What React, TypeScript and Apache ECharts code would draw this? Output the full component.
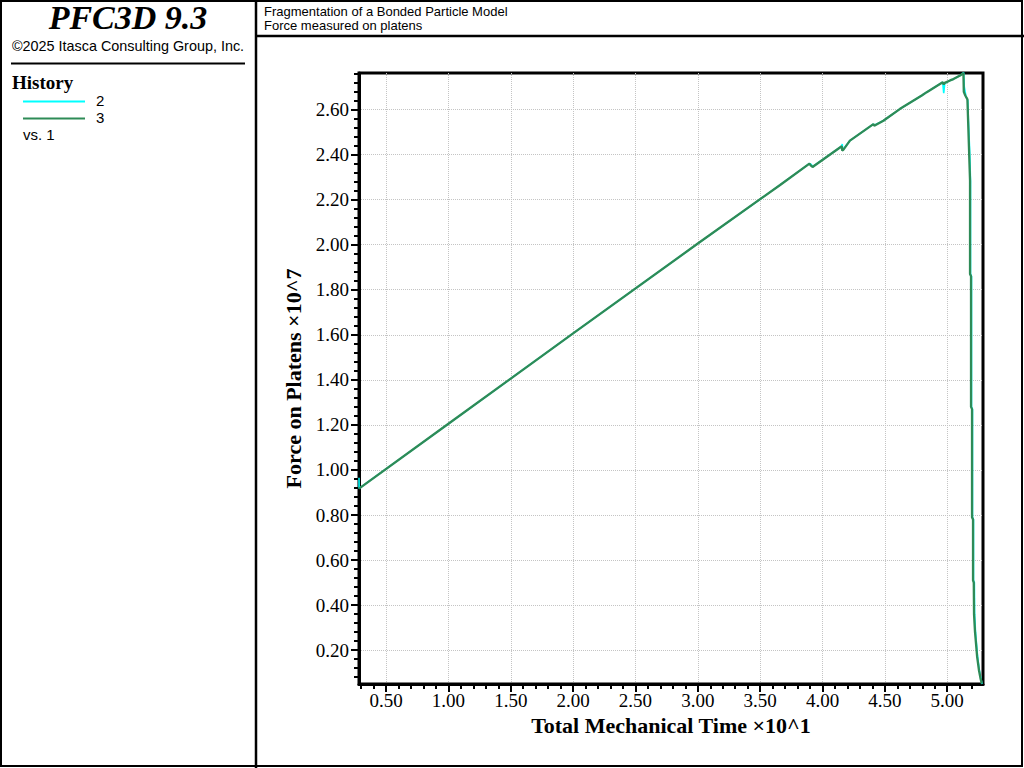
import React, { useEffect, useRef } from "react";
import * as echarts from "echarts";

// ---- data ----
const time2 = [0.283, 0.284, 1.0, 2.0, 3.0, 3.66, 3.895, 3.91, 3.92, 4.154, 4.158, 4.163, 4.22, 4.408, 4.415, 4.488, 4.622, 4.796, 4.836, 4.964, 4.972, 4.98, 5.023, 5.05, 5.103, 5.132, 5.137, 5.15, 5.165, 5.17, 5.18, 5.187, 5.187, 5.195, 5.195, 5.203, 5.203, 5.211, 5.211, 5.218, 5.22, 5.227, 5.244, 5.258, 5.27, 5.28];
const force2 = [0.965, 0.918, 1.205, 1.606, 2.005, 2.265, 2.36, 2.356, 2.346, 2.437, 2.447, 2.42, 2.462, 2.535, 2.53, 2.55, 2.603, 2.662, 2.677, 2.721, 2.672, 2.715, 2.729, 2.735, 2.751, 2.765, 2.7, 2.66, 2.64, 2.55, 2.42, 2.28, 1.87, 1.86, 1.28, 1.27, 0.79, 0.78, 0.51, 0.5, 0.36, 0.28, 0.17, 0.11, 0.075, 0.05];

const time3 = [0.283, 1.0, 2.0, 3.0, 3.66, 3.895, 3.905, 3.92, 4.154, 4.158, 4.165, 4.22, 4.408, 4.415, 4.488, 4.622, 4.796, 4.836, 4.964, 4.972, 4.98, 5.023, 5.05, 5.103, 5.13, 5.133, 5.145, 5.162, 5.168, 5.175, 5.183, 5.183, 5.191, 5.191, 5.199, 5.199, 5.207, 5.207, 5.213, 5.215, 5.223, 5.24, 5.255, 5.267, 5.277];
const force3 = [0.917, 1.205, 1.606, 2.005, 2.265, 2.36, 2.352, 2.345, 2.437, 2.418, 2.42, 2.462, 2.535, 2.528, 2.55, 2.603, 2.662, 2.677, 2.721, 2.711, 2.718, 2.729, 2.735, 2.751, 2.761, 2.678, 2.662, 2.645, 2.542, 2.42, 2.285, 1.87, 1.86, 1.28, 1.27, 0.79, 0.78, 0.51, 0.5, 0.36, 0.28, 0.17, 0.11, 0.075, 0.052];

const xMajorTicks = [0.5, 1.0, 1.5, 2.0, 2.5, 3.0, 3.5, 4.0, 4.5, 5.0];
const yMajorTicks = [0.2, 0.4, 0.6, 0.8, 1.0, 1.2, 1.4, 1.6, 1.8, 2.0, 2.2, 2.4, 2.6];

const X_MIN = 0.283;
const X_MAX = 5.287;
const Y_MIN = 0.05;
const Y_MAX = 2.762;

function minorTicks(min: number, max: number, step: number): number[] {
  const out: number[] = [];
  const start = Math.ceil(min / step - 1e-9);
  for (let k = start; k * step <= max + 1e-9; k++) {
    out.push(Math.round(k * step * 1000) / 1000);
  }
  return out;
}

const SERIF = "'Times New Roman', 'Liberation Serif', serif";
const SANS = "Arial, 'Liberation Sans', sans-serif";

export default function App() {
  const ref = useRef<HTMLDivElement>(null);

  useEffect(() => {
    if (!ref.current) return;
    const chart = echarts.init(ref.current, null, { renderer: "svg" });

    const xMinor = minorTicks(X_MIN, X_MAX, 0.1);
    const yMinor = minorTicks(Y_MIN, Y_MAX, 0.04);

    const tickLabel = {
      fontFamily: SERIF,
      fontSize: 19,
      color: "#000",
      formatter: (v: number) => Number(v).toFixed(2),
    };

    const option: any = {
      animation: false,
      backgroundColor: "#fff",
      grid: {
        left: 359,
        right: 41,
        top: 73,
        bottom: 84,
        show: true,
        borderColor: "#000",
        borderWidth: 3,
        backgroundColor: "transparent",
      },
      xAxis: [
        {
          type: "value",
          min: X_MIN,
          max: X_MAX,
          position: "bottom",
          name: "Total Mechanical Time \u00d710^1",
          nameLocation: "middle",
          nameGap: 26,
          nameTextStyle: { fontFamily: SERIF, fontSize: 22, fontWeight: "bold", color: "#000" },
          axisLine: { show: true, lineStyle: { color: "#000", width: 3 } },
          axisTick: { show: true, customValues: xMinor, length: 5, lineStyle: { color: "#000", width: 2 } },
          axisLabel: { ...tickLabel, customValues: xMajorTicks, margin: 7 },
          splitLine: { show: false },
        },
        {
          type: "value",
          min: X_MIN,
          max: X_MAX,
          position: "bottom",
          axisLine: { show: false },
          axisTick: { show: true, customValues: xMajorTicks, length: 8, lineStyle: { color: "#000", width: 2 } },
          axisLabel: { show: false },
          splitLine: { show: true, lineStyle: { color: "#c4c4c4", type: "dotted", width: 1 } },
        },
      ],
      yAxis: [
        {
          type: "value",
          min: Y_MIN,
          max: Y_MAX,
          position: "left",
          name: "Force on Platens \u00d710^7",
          nameLocation: "middle",
          nameGap: 47,
          nameRotate: 90,
          nameTextStyle: { fontFamily: SERIF, fontSize: 22, fontWeight: "bold", color: "#000" },
          axisLine: { show: true, lineStyle: { color: "#000", width: 3 } },
          axisTick: { show: true, customValues: yMinor, length: 5, lineStyle: { color: "#000", width: 2 } },
          axisLabel: { ...tickLabel, customValues: yMajorTicks, margin: 10 },
          splitLine: { show: false },
        },
        {
          type: "value",
          min: Y_MIN,
          max: Y_MAX,
          position: "left",
          axisLine: { show: false },
          axisTick: { show: true, customValues: yMajorTicks, length: 8, lineStyle: { color: "#000", width: 2 } },
          axisLabel: { show: false },
          splitLine: { show: true, lineStyle: { color: "#c4c4c4", type: "dotted", width: 1 } },
        },
      ],
      series: [
        {
          name: "2",
          type: "line",
          xAxisIndex: 0,
          yAxisIndex: 0,
          showSymbol: false,
          symbol: "none",
          data: time2.map((t, i) => [t, force2[i]]),
          lineStyle: { color: "#00FFFF", width: 1.6 },
          itemStyle: { color: "#00FFFF" },
          z: 3,
        },
        {
          name: "3",
          type: "line",
          xAxisIndex: 0,
          yAxisIndex: 0,
          showSymbol: false,
          symbol: "none",
          data: time3.map((t, i) => [t, force3[i]]),
          lineStyle: { color: "#2E8B57", width: 2.3 },
          itemStyle: { color: "#2E8B57" },
          z: 4,
        },
      ],
      graphic: [
        // frames
        { type: "rect", shape: { x: 1, y: 1, width: 1021, height: 765 }, style: { fill: "none", stroke: "#000", lineWidth: 2 }, silent: true },
        { type: "line", shape: { x1: 256, y1: 0, x2: 256, y2: 768 }, style: { stroke: "#000", lineWidth: 2.5 }, silent: true },
        { type: "line", shape: { x1: 256, y1: 36, x2: 1024, y2: 36 }, style: { stroke: "#000", lineWidth: 2.5 }, silent: true },
        // left panel
        { type: "text", x: 128, y: 17, style: { text: "PFC3D 9.3", font: `italic bold 34px ${SERIF}`, fill: "#000", textAlign: "center", textVerticalAlign: "middle" } },
        { type: "text", x: 128, y: 46, style: { text: "\u00a92025 Itasca Consulting Group, Inc.", font: `14.4px ${SANS}`, fill: "#000", textAlign: "center", textVerticalAlign: "middle" } },
        { type: "line", shape: { x1: 11, y1: 63.5, x2: 245, y2: 63.5 }, style: { stroke: "#000", lineWidth: 2 }, silent: true },
        { type: "text", x: 12, y: 82, style: { text: "History", font: `bold 19px ${SERIF}`, fill: "#000", textAlign: "left", textVerticalAlign: "middle" } },
        { type: "line", shape: { x1: 23, y1: 101.5, x2: 85, y2: 101.5 }, style: { stroke: "#00FFFF", lineWidth: 2 }, silent: true },
        { type: "text", x: 96, y: 100, style: { text: "2", font: `15px ${SANS}`, fill: "#000", textAlign: "left", textVerticalAlign: "middle" } },
        { type: "line", shape: { x1: 23, y1: 118.5, x2: 85, y2: 118.5 }, style: { stroke: "#2E8B57", lineWidth: 2 }, silent: true },
        { type: "text", x: 96, y: 117, style: { text: "3", font: `15px ${SANS}`, fill: "#000", textAlign: "left", textVerticalAlign: "middle" } },
        { type: "text", x: 23, y: 134, style: { text: "vs. 1", font: `15px ${SANS}`, fill: "#000", textAlign: "left", textVerticalAlign: "middle" } },
        // title box
        { type: "text", x: 264, y: 11, style: { text: "Fragmentation of a Bonded Particle Model", font: `13px ${SANS}`, fill: "#000", textAlign: "left", textVerticalAlign: "middle" } },
        { type: "text", x: 264, y: 25, style: { text: "Force measured on platens", font: `13px ${SANS}`, fill: "#000", textAlign: "left", textVerticalAlign: "middle" } },
      ],
    };

    chart.setOption(option);
    return () => chart.dispose();
  }, []);

  return (
    <div
      ref={ref}
      style={{ position: "absolute", left: 0, top: 0, width: 1024, height: 768, background: "#fff" }}
    />
  );
}
